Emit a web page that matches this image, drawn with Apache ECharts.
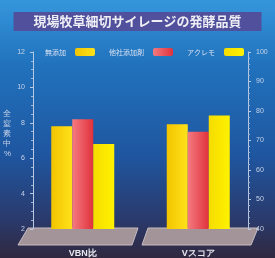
<!DOCTYPE html>
<html>
<head>
<meta charset="utf-8">
<script src="https://cdn.jsdelivr.net/npm/echarts@6/dist/echarts.min.js"></script>
<style>
  html, body { margin: 0; padding: 0; }
  #chart { width: 275px; height: 258px; }
</style>
</head>
<body>
<div id="chart"></div>
<script>
// categories and values
const categories = ['VBN比', 'Vスコア'];
const seriesNames = ['無添加', '他社添加剤', 'アクレモ'];
const vbn = [7.8, 8.2, 6.8];      // left axis, 全窒素中%
const vscore = [75.5, 73, 78.5];  // right axis
const leftTicks = [2, 12, 2];     // min, max, interval
const rightTicks = [40, 100, 10];

const colors = [
  ['#f2c400', '#ffe21a'],
  ['#f47a80', '#e0323c'],
  ['#f5dc00', '#fff200']
];

function grad(c) {
  return new echarts.graphic.LinearGradient(0, 0, 1, 0, [
    { offset: 0, color: c[0] }, { offset: 1, color: c[1] }
  ]);
}

let myChart = echarts.init(document.getElementById('chart'));

let series = [];
seriesNames.forEach(function(name, i) {
  series.push({
    name: name,
    type: 'bar',
    xAxisIndex: 0,
    yAxisIndex: 0,
    barWidth: 21,
    barGap: '0%',
    itemStyle: { color: grad(colors[i]) },
    data: [vbn[i], '-']
  });
});
seriesNames.forEach(function(name, i) {
  series.push({
    name: name,
    type: 'bar',
    xAxisIndex: 1,
    yAxisIndex: 1,
    barWidth: 21,
    barGap: '0%',
    itemStyle: { color: grad(colors[i]) },
    data: ['-', vscore[i]]
  });
});

const axisText = { color: '#c8d4e8', fontSize: 7 };

option = {
  backgroundColor: new echarts.graphic.LinearGradient(0, 0, 0, 1, [
    { offset: 0, color: '#3596dc' },
    { offset: 0.25, color: '#2172bd' },
    { offset: 0.6, color: '#1f56a0' },
    { offset: 0.85, color: '#2a3a6c' },
    { offset: 1, color: '#30283f' }
  ]),
  title: {
    text: '現場牧草細切サイレージの発酵品質',
    left: 'center',
    top: 12,
    padding: [3, 20],
    backgroundColor: '#50509c',
    textStyle: { color: '#eeeef4', fontSize: 13, fontWeight: 'bold', fontFamily: 'Noto Sans CJK JP' }
  },
  legend: {
    data: seriesNames,
    left: 40,
    top: 43,
    align: 'right',
    itemWidth: 20,
    itemHeight: 8,
    itemGap: 14,
    textStyle: { color: '#d8e0f0', fontSize: 7, padding: [0, 4, 0, 0], fontFamily: 'Noto Sans CJK JP' }
  },
  grid: { left: 22, right: 19, top: 52, bottom: 26 },
  graphic: [
    {
      type: 'polygon', z: 0,
      shape: { points: [[28, 228], [138, 228], [132, 245], [18, 245]] },
      style: { fill: '#a3949a', stroke: '#c8bcc0', lineWidth: 1 }
    },
    {
      type: 'polygon', z: 0,
      shape: { points: [[148, 228], [258, 228], [251, 245], [142, 245]] },
      style: { fill: '#a3949a', stroke: '#c8bcc0', lineWidth: 1 }
    }
  ],
  xAxis: [
    {
      type: 'category',
      data: categories,
      axisLine: { show: false },
      axisTick: { show: false },
      axisLabel: { color: '#e8e8f0', fontSize: 9, fontWeight: 'bold', margin: 20 }
    },
    {
      type: 'category',
      data: categories,
      show: false
    }
  ],
  yAxis: [
    {
      type: 'value',
      offset: -8,
      min: leftTicks[0], max: leftTicks[1], interval: leftTicks[2],
      name: '全\n窒\n素\n中\n%',
      nameLocation: 'middle',
      nameRotate: 0,
      nameGap: 22,
      nameTextStyle: { color: '#c8d4e8', fontSize: 8, lineHeight: 10, verticalAlign: 'bottom', padding: [0, 0, -18, 0] },
      axisLine: { show: true, lineStyle: { color: '#b8c8e0', width: 1 } },
      axisTick: { show: true, length: 3, lineStyle: { color: '#b8c8e0' } },
      minorTick: { show: true, splitNumber: 4, length: 2, lineStyle: { color: '#9fb4d4' } },
      splitLine: { show: false },
      axisLabel: axisText
    },
    {
      type: 'value',
      position: 'right',
      offset: -8,
      min: rightTicks[0], max: rightTicks[1], interval: rightTicks[2],
      axisLine: { show: true, lineStyle: { color: '#b8c8e0', width: 1 } },
      axisTick: { show: true, length: 3, lineStyle: { color: '#b8c8e0' } },
      minorTick: { show: true, splitNumber: 5, length: 2, lineStyle: { color: '#9fb4d4' } },
      splitLine: { show: false },
      axisLabel: axisText
    }
  ],
  series: series
};

myChart.setOption(option);
</script>
</body>
</html>
